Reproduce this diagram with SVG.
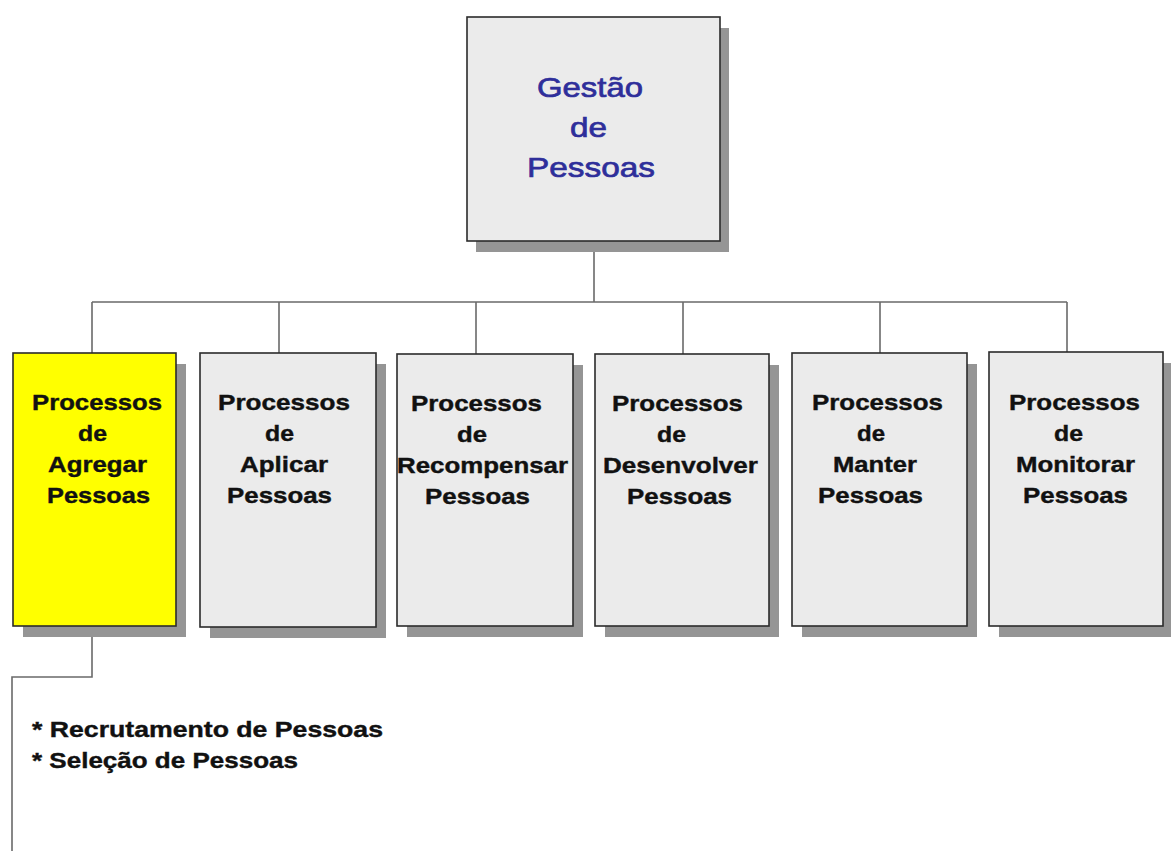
<svg xmlns="http://www.w3.org/2000/svg" width="1171" height="851" viewBox="0 0 1171 851">
<style>
.shadow{fill:#959595}
.box{fill:#ebebeb;stroke:#2b2b2b;stroke-width:1.6}
.yellow{fill:#ffff00;stroke:#2b2b2b;stroke-width:1.6}
.conn{fill:none;stroke:#6a6a6a;stroke-width:1.6}
.lbl{font-family:"Liberation Sans",Arial,sans-serif;font-weight:bold;font-size:22.5px;fill:#111;stroke:#111;stroke-width:0.4}
.title{font-family:"Liberation Sans",Arial,sans-serif;font-size:28.5px;fill:#2e2e9a;stroke:#2e2e9a;stroke-width:0.7}
</style>
<rect width="1171" height="851" fill="#ffffff"/>
<g id="connectors">
<path class="conn" d="M594 241 V302 M92 302 H1067 M92 302 V353 M279 302 V353 M476 302 V354 M683 302 V354 M880 302 V353 M1067 302 V352"/>
<path class="conn" d="M92 626 V677 H12 V851"/>
</g>
<g id="gestao">
<rect class="shadow" x="476" y="28" width="253" height="224"/>
<rect class="box" x="467" y="17" width="253" height="224"/>
<text class="title" x="537" y="97" textLength="106" lengthAdjust="spacingAndGlyphs">Gestão</text>
<text class="title" x="570" y="137" textLength="37" lengthAdjust="spacingAndGlyphs">de</text>
<text class="title" x="527" y="177" textLength="128" lengthAdjust="spacingAndGlyphs">Pessoas</text>
</g>
<g id="agregar">
<rect class="shadow" x="23" y="364" width="163" height="273"/>
<rect class="yellow" x="13" y="353" width="163" height="273"/>
<text class="lbl" x="32" y="410" textLength="130" lengthAdjust="spacingAndGlyphs">Processos</text>
<text class="lbl" x="78" y="441" textLength="29" lengthAdjust="spacingAndGlyphs">de</text>
<text class="lbl" x="48" y="472" textLength="99" lengthAdjust="spacingAndGlyphs">Agregar</text>
<text class="lbl" x="47" y="503" textLength="103" lengthAdjust="spacingAndGlyphs">Pessoas</text>
</g>
<g id="aplicar">
<rect class="shadow" x="210" y="364" width="176" height="274"/>
<rect class="box" x="200" y="353" width="176" height="274"/>
<text class="lbl" x="218" y="410" textLength="132" lengthAdjust="spacingAndGlyphs">Processos</text>
<text class="lbl" x="265" y="441" textLength="29" lengthAdjust="spacingAndGlyphs">de</text>
<text class="lbl" x="240" y="472" textLength="88" lengthAdjust="spacingAndGlyphs">Aplicar</text>
<text class="lbl" x="227" y="503" textLength="105" lengthAdjust="spacingAndGlyphs">Pessoas</text>
</g>
<g id="recompensar">
<rect class="shadow" x="407" y="365" width="176" height="272"/>
<rect class="box" x="397" y="354" width="176" height="272"/>
<text class="lbl" x="411" y="411" textLength="131" lengthAdjust="spacingAndGlyphs">Processos</text>
<text class="lbl" x="457" y="442" textLength="30" lengthAdjust="spacingAndGlyphs">de</text>
<text class="lbl" x="397" y="473" textLength="171" lengthAdjust="spacingAndGlyphs">Recompensar</text>
<text class="lbl" x="425" y="504" textLength="105" lengthAdjust="spacingAndGlyphs">Pessoas</text>
</g>
<g id="desenvolver">
<rect class="shadow" x="605" y="365" width="174" height="272"/>
<rect class="box" x="595" y="354" width="174" height="272"/>
<text class="lbl" x="612" y="411" textLength="131" lengthAdjust="spacingAndGlyphs">Processos</text>
<text class="lbl" x="657" y="442" textLength="29" lengthAdjust="spacingAndGlyphs">de</text>
<text class="lbl" x="603" y="473" textLength="155" lengthAdjust="spacingAndGlyphs">Desenvolver</text>
<text class="lbl" x="627" y="504" textLength="105" lengthAdjust="spacingAndGlyphs">Pessoas</text>
</g>
<g id="manter">
<rect class="shadow" x="802" y="364" width="175" height="273"/>
<rect class="box" x="792" y="353" width="175" height="273"/>
<text class="lbl" x="812" y="410" textLength="131" lengthAdjust="spacingAndGlyphs">Processos</text>
<text class="lbl" x="857" y="441" textLength="28" lengthAdjust="spacingAndGlyphs">de</text>
<text class="lbl" x="833" y="472" textLength="84" lengthAdjust="spacingAndGlyphs">Manter</text>
<text class="lbl" x="818" y="503" textLength="105" lengthAdjust="spacingAndGlyphs">Pessoas</text>
</g>
<g id="monitorar">
<rect class="shadow" x="999" y="363" width="172" height="274"/>
<rect class="box" x="989" y="352" width="174" height="274"/>
<text class="lbl" x="1009" y="410" textLength="131" lengthAdjust="spacingAndGlyphs">Processos</text>
<text class="lbl" x="1054" y="441" textLength="29" lengthAdjust="spacingAndGlyphs">de</text>
<text class="lbl" x="1016" y="472" textLength="119" lengthAdjust="spacingAndGlyphs">Monitorar</text>
<text class="lbl" x="1023" y="503" textLength="105" lengthAdjust="spacingAndGlyphs">Pessoas</text>
</g>
<g id="lista">
<text class="lbl" x="32" y="737" textLength="351" lengthAdjust="spacingAndGlyphs">* Recrutamento de Pessoas</text>
<text class="lbl" x="32" y="768" textLength="266" lengthAdjust="spacingAndGlyphs">* Seleção de Pessoas</text>
</g>
</svg>
